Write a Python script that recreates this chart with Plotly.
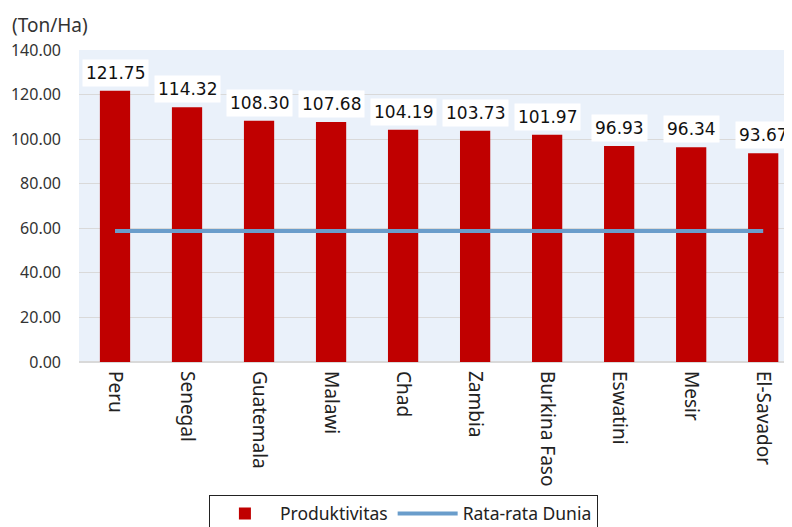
import plotly.graph_objects as go

countries = ["Peru", "Senegal", "Guatemala", "Malawi", "Chad", "Zambia",
             "Burkina Faso", "Eswatini", "Mesir", "El-Savador"]
produktivitas = [121.75, 114.32, 108.30, 107.68, 104.19, 103.73, 101.97, 96.93, 96.34, 93.67]
rata_rata_dunia = [58.8] * len(countries)
y_ticks = [0, 20, 40, 60, 80, 100, 120, 140]

font = "Noto Sans"
fig = go.Figure()
fig.add_trace(go.Bar(x=countries, y=produktivitas, name="Produktivitas",
                     marker=dict(color="#C00000", line=dict(width=0)), width=0.42))
fig.add_trace(go.Scatter(x=countries, y=rata_rata_dunia, name="Rata-rata Dunia",
                         mode="lines", line=dict(color="#6A9DCB", width=4)))

for c, v in zip(countries, produktivitas):
    fig.add_annotation(x=c, y=v, text=f"{v:.2f}", showarrow=False, yanchor="bottom",
                       yshift=4, bgcolor="white", borderpad=3,
                       font=dict(family="DejaVu Sans", size=17, color="#111111"))

fig.add_annotation(x=0, y=1, xref="paper", yref="paper", xanchor="left", yanchor="bottom",
                   text="(Ton/Ha)", showarrow=False, xshift=-69, yshift=10,
                   font=dict(family=font, size=19, color="#333333"))

fig.update_layout(
    width=792, height=527,
    margin=dict(l=71, r=8, t=42, b=173, autoexpand=False),
    paper_bgcolor="white", plot_bgcolor="#EAF1FA",
    showlegend=True,
    legend=dict(orientation="h", x=0.455, xanchor="center", y=-0.425, yanchor="top",
                bordercolor="#222222", borderwidth=1, bgcolor="white",
                font=dict(family=font, size=17.5, color="#222222"), itemwidth=60),
    font=dict(family=font),
)
fig.update_xaxes(range=[-0.5, 9.4], tickangle=90, showgrid=False, ticks="",
                 tickfont=dict(family=font, size=19, color="#222222"),
                 showline=False, automargin=False, ticklabelstandoff=8)
fig.update_yaxes(range=[0, 140], tickvals=y_ticks, ticktext=[f"{t:.2f}" for t in y_ticks],
                 gridcolor="#D9D9D9", gridwidth=1, zeroline=True, zerolinecolor="#D9D9D9",
                 tickfont=dict(family=font, size=16, color="#333333"), ticks="",
                 automargin=False, ticklabelstandoff=17)

fig.write_html("out.html")
